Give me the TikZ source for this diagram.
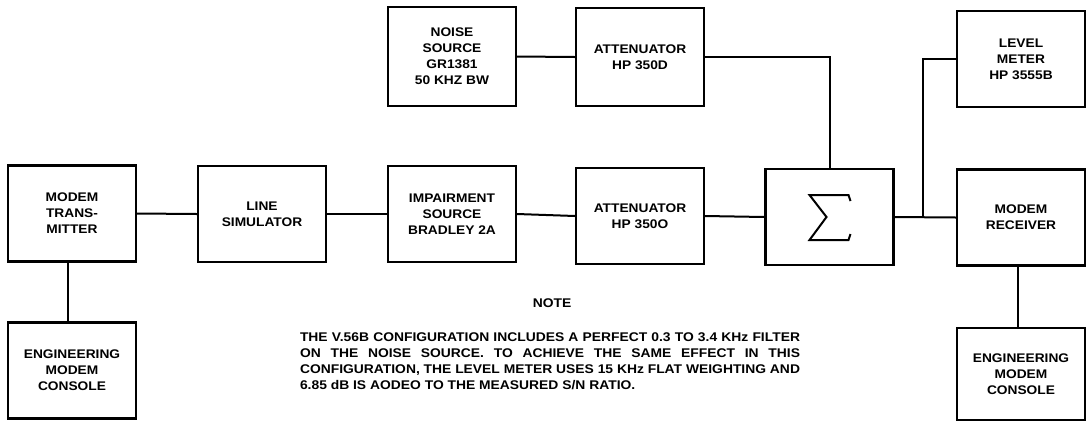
\documentclass[tikz,border=0pt]{standalone}
\usepackage{fontspec}
\setmainfont[FakeStretch=1.1]{Liberation Sans}
\usepackage{xcolor}
\usepackage{tikz}

\begin{document}
\begin{tikzpicture}[x=1pt, y=-1pt,
        block/.style={draw, line width=2.1pt, minimum width=128pt, minimum height=96pt, inner sep=0pt, align=center, font=\fontsize{12.5}{16}\selectfont\bfseries},
        note/.style={inner sep=0pt, align=justify, text width=500pt, font=\fontsize{12.6}{16}\selectfont\bfseries},
        wire/.style={line width=2pt}
    ]
        \useasboundingbox (0,0) rectangle (1092,424);

        \node[block] (tx) at (72,213.5) {MODEM\\TRANS-\\MITTER};
        \node[block] (con1) at (72,370.5) {ENGINEERING\\MODEM\\CONSOLE};
        \node[block] (sim) at (262,214) {LINE\\SIMULATOR};
        \node[block] (imp) at (452,214) {IMPAIRMENT\\SOURCE\\BRADLEY 2A};
        \node[block] (attb) at (640,216) {ATTENUATOR\\HP 350O};

        \node[block, minimum height=99pt] (noise) at (452,56.5) {NOISE\\SOURCE\\GR1381\\50 KHZ BW};
        \node[block, minimum height=98pt] (atta) at (640,57) {ATTENUATOR\\HP 350D};

        \node[block] (sum) at (829.5,217) {};
        \draw[line width=2pt, line join=miter] ([shift={(21,-16)}]sum.center) -- ++(-2,-6) -- ++(-39,0)
            -- ++(17,22) -- ++(-17,23) -- ++(39,0) -- ++(2,-6);

        \node[block] (lvl) at (1021,59) {LEVEL\\METER\\HP 3555B};
        \node[block] (rx) at (1021,217.5) {MODEM\\RECEIVER};
        \node[block, minimum height=92pt] (con2) at (1021,374) {ENGINEERING\\MODEM\\CONSOLE};

        \coordinate (jn) at (923,217.5);

        \node[font=\fontsize{12.6}{16}\selectfont\bfseries] (notehd) at (552,303) {NOTE};
        \node[note] (notetxt) at (550,361) {%
            THE V.56B CONFIGURATION INCLUDES A PERFECT 0.3 TO 3.4 KHz FILTER\linebreak
            ON THE NOISE SOURCE. TO ACHIEVE THE SAME EFFECT IN THIS\linebreak
            CONFIGURATION, THE LEVEL METER USES 15 KHz FLAT WEIGHTING AND\linebreak
            6.85 dB IS AODEO TO THE MEASURED S/N RATIO.};

        \draw[wire] (tx.east) -- (sim.west);
        \draw[wire] (sim.east) -- (imp.west);
        \draw[wire] (imp.east) -- (attb.west);
        \draw[wire] (attb.east) -- (sum.west);
        \draw[wire] (noise.east) -- (atta.west);
        \draw[wire] (atta.east) -| (sum.north);
        \draw[wire] (sum.east) -- (rx.west);
        \draw[wire] (jn) |- (lvl.west);
        \draw[wire] ([xshift=-4pt]tx.south) -- ([xshift=-4pt]con1.north);
        \draw[wire] ([xshift=-3pt]rx.south) -- ([xshift=-3pt]con2.north);
    \end{tikzpicture}
\end{document}
